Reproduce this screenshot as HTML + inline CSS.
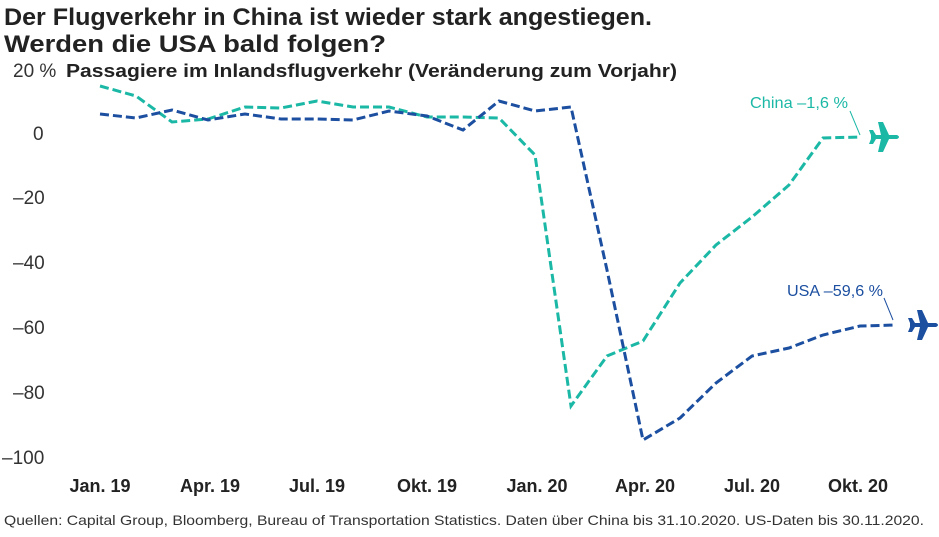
<!DOCTYPE html>
<html><head><meta charset="utf-8"><style>
body{margin:0;background:#fff;width:939px;height:532px;overflow:hidden;font-family:"Liberation Sans",sans-serif}
</style></head><body>
<svg width="939" height="532" xmlns="http://www.w3.org/2000/svg" font-family="Liberation Sans, sans-serif">
<text x="4" y="25" font-size="24" font-weight="bold" fill="#222" textLength="648" lengthAdjust="spacingAndGlyphs">Der Flugverkehr in China ist wieder stark angestiegen.</text>
<text x="4" y="52" font-size="24" font-weight="bold" fill="#222" textLength="382" lengthAdjust="spacingAndGlyphs">Werden die USA bald folgen?</text>
<text x="13" y="77" font-size="19" fill="#333">20 %</text>
<text x="66" y="77" font-size="18" font-weight="bold" fill="#222" textLength="611" lengthAdjust="spacingAndGlyphs">Passagiere im Inlandsflugverkehr (Veränderung zum Vorjahr)</text>
<g font-size="19" fill="#333">
<text x="33" y="140">0</text>
<text x="13" y="204">–20</text>
<text x="13" y="269">–40</text>
<text x="13" y="334">–60</text>
<text x="13" y="399">–80</text>
<text x="2" y="464">–100</text>
</g>
<g font-size="18" font-weight="bold" fill="#222" text-anchor="middle">
<text x="100" y="492">Jan. 19</text>
<text x="210" y="492">Apr. 19</text>
<text x="317" y="492">Jul. 19</text>
<text x="427" y="492">Okt. 19</text>
<text x="537" y="492">Jan. 20</text>
<text x="645" y="492">Apr. 20</text>
<text x="752" y="492">Jul. 20</text>
<text x="858" y="492">Okt. 20</text>
</g>
<g fill="none" stroke-width="3" stroke-dasharray="9,4">
<polyline stroke="#1bb8a6" points="100,86 136,96 172,122 208,119 245,107 281,108 317,101 353,107 389,107 427,117 463,117 499,118 535,155 571,406 607,356 643,341 680,283 716,245 752,217 789,185 823,138 860,137"/>
<polyline stroke="#1c4fa0" points="100,114 136,118 172,110 208,120 245,114 281,119 317,119 353,120 389,111 427,116 463,130 499,101 535,111 571,107 607,270 643,440 680,418 716,383 752,356 789,348 823,335 860,326 895,325"/>
</g>
<text x="750" y="108" font-size="16" fill="#1bb8a6" textLength="98" lengthAdjust="spacingAndGlyphs">China –1,6 %</text>
<line x1="850" y1="111" x2="860" y2="135" stroke="#1bb8a6"/>
<text x="787" y="296" font-size="16" fill="#1c4fa0" textLength="96" lengthAdjust="spacingAndGlyphs">USA –59,6 %</text>
<line x1="884" y1="298" x2="893" y2="320" stroke="#1c4fa0"/>
<g fill="#1bb8a6" transform="translate(884,137)">
<path d="M-13,-2 L13,-2 Q17,0 13,2 L-13,2Z M-3,-2 L-6,-15 L-1,-15 L5,-2Z M-3,2 L-6,15 L-1,15 L5,2Z M-13,-2 L-15,-7 L-11,-7 L-8,-2Z M-13,2 L-15,7 L-11,7 L-8,2Z"/>
</g>
<g fill="#1c4fa0" transform="translate(923,325)">
<path d="M-13,-2 L13,-2 Q17,0 13,2 L-13,2Z M-3,-2 L-6,-15 L-1,-15 L5,-2Z M-3,2 L-6,15 L-1,15 L5,2Z M-13,-2 L-15,-7 L-11,-7 L-8,-2Z M-13,2 L-15,7 L-11,7 L-8,2Z"/>
</g>
<text x="4" y="525" font-size="14" fill="#333" textLength="920" lengthAdjust="spacingAndGlyphs">Quellen: Capital Group, Bloomberg, Bureau of Transportation Statistics. Daten über China bis 31.10.2020. US-Daten bis 30.11.2020.</text>
</svg>
</body></html>
